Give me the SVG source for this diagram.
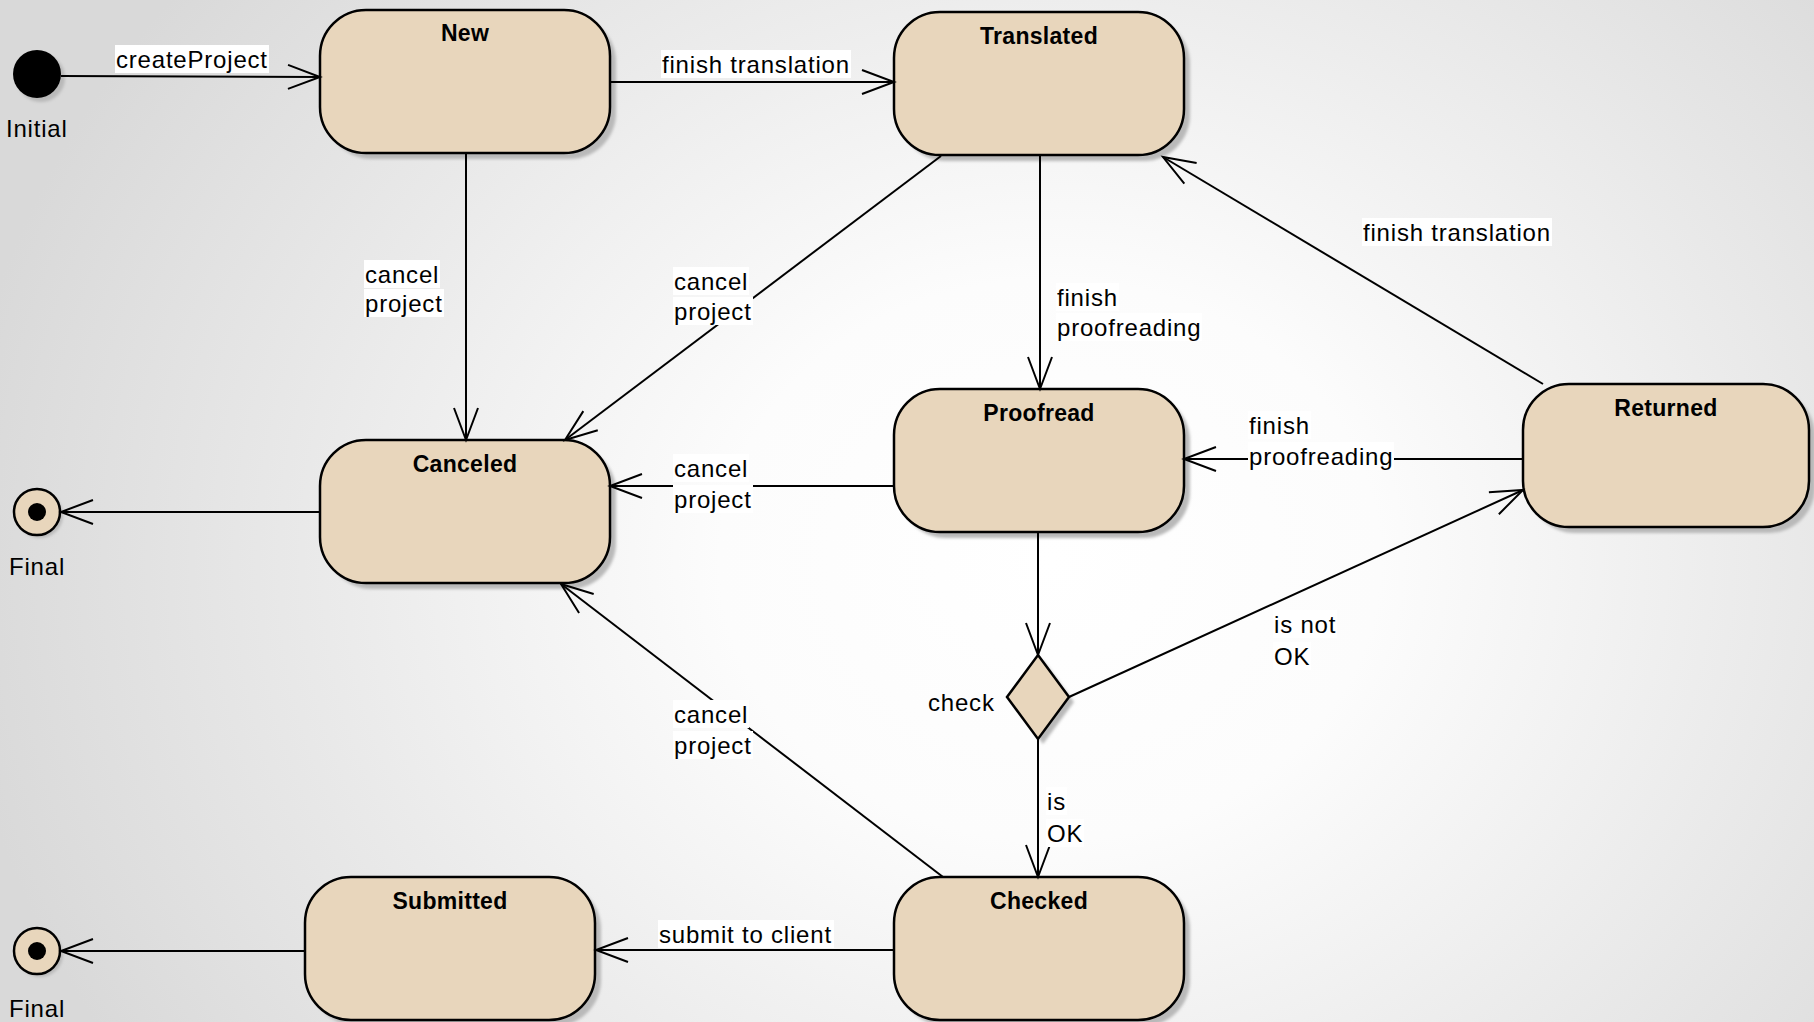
<svg xmlns="http://www.w3.org/2000/svg" width="1814" height="1022" viewBox="0 0 1814 1022">
<defs>
<radialGradient id="bg" gradientUnits="userSpaceOnUse" cx="1050" cy="560" r="1100" gradientTransform="translate(1050 560) scale(1 0.85) translate(-1050 -560)">
<stop offset="0" stop-color="#ffffff"/>
<stop offset="0.3" stop-color="#fcfcfc"/>
<stop offset="1" stop-color="#d9d9d9"/>
</radialGradient>
<filter id="blur" x="-10%" y="-10%" width="120%" height="120%"><feGaussianBlur stdDeviation="1.5"/></filter>
<marker id="arr" viewBox="-36 -16 40 32" markerWidth="40" markerHeight="32" refX="0" refY="0" orient="auto" markerUnits="userSpaceOnUse">
<path d="M-32,-12 L0,0 L-32,12" fill="none" stroke="#000" stroke-width="2"/>
</marker>
</defs>
<style>
.st{fill:#e8d6bc;stroke:#000;stroke-width:2.5}
.sh{fill:#b9b9b9;filter:url(#blur)}
.ln{fill:none;stroke:#000;stroke-width:2;marker-end:url(#arr)}
.lbl{font-family:"Liberation Sans",Arial,sans-serif;font-size:24px;letter-spacing:0.8px;fill:#000}
.bgw{fill:#ffffff}
.title{font-family:"Liberation Sans",Arial,sans-serif;font-size:23px;font-weight:bold;letter-spacing:0.3px;text-anchor:middle;fill:#000}
</style>
<rect x="0" y="0" width="1814" height="1022" fill="url(#bg)"/>

<g id="initial">
<circle class="sh" cx="41" cy="78" r="24"/>
<circle cx="37" cy="74" r="24" fill="#000"/>
<text class="lbl" x="6" y="137">Initial</text>
</g>

<g id="final1">
<circle class="sh" cx="40" cy="515" r="23"/>
<circle cx="37" cy="512" r="23" fill="#e8d6bc" stroke="#000" stroke-width="2.5"/>
<circle cx="37" cy="512" r="9" fill="#000"/>
<text class="lbl" x="9" y="575">Final</text>
</g>

<g id="final2">
<circle class="sh" cx="40" cy="954" r="23"/>
<circle cx="37" cy="951" r="23" fill="#e8d6bc" stroke="#000" stroke-width="2.5"/>
<circle cx="37" cy="951" r="9" fill="#000"/>
<text class="lbl" x="9" y="1017">Final</text>
</g>

<g id="new">
<rect class="sh" x="326" y="16" width="290" height="143" rx="46" ry="46"/>
<rect class="st" x="320" y="10" width="290" height="143" rx="46" ry="46"/>
<text class="title" x="465" y="41">New</text>
</g>

<g id="translated">
<rect class="sh" x="900" y="18" width="290" height="143" rx="46" ry="46"/>
<rect class="st" x="894" y="12" width="290" height="143" rx="46" ry="46"/>
<text class="title" x="1039" y="44">Translated</text>
</g>

<g id="canceled">
<rect class="sh" x="326" y="446" width="290" height="143" rx="46" ry="46"/>
<rect class="st" x="320" y="440" width="290" height="143" rx="46" ry="46"/>
<text class="title" x="465" y="472">Canceled</text>
</g>

<g id="proofread">
<rect class="sh" x="900" y="395" width="290" height="143" rx="46" ry="46"/>
<rect class="st" x="894" y="389" width="290" height="143" rx="46" ry="46"/>
<text class="title" x="1039" y="421">Proofread</text>
</g>

<g id="returned">
<rect class="sh" x="1529" y="390" width="286" height="143" rx="46" ry="46"/>
<rect class="st" x="1523" y="384" width="286" height="143" rx="46" ry="46"/>
<text class="title" x="1666" y="416">Returned</text>
</g>

<g id="check">
<polygon class="sh" points="1043,660 1074,702 1043,744 1012,702"/>
<polygon class="st" points="1038,655 1069,697 1038,739 1007,697"/>
<text class="lbl" x="928" y="711">check</text>
</g>

<g id="submitted">
<rect class="sh" x="311" y="883" width="290" height="143" rx="46" ry="46"/>
<rect class="st" x="305" y="877" width="290" height="143" rx="46" ry="46"/>
<text class="title" x="450" y="909">Submitted</text>
</g>

<g id="checked">
<rect class="sh" x="900" y="883" width="290" height="143" rx="46" ry="46"/>
<rect class="st" x="894" y="877" width="290" height="143" rx="46" ry="46"/>
<text class="title" x="1039" y="909">Checked</text>
</g>

<g id="connectors">
<line class="ln" x1="61" y1="76" x2="320" y2="77"/>
<line class="ln" x1="610" y1="82" x2="894" y2="82"/>
<line class="ln" x1="466" y1="153" x2="466" y2="440"/>
<line class="ln" x1="941" y1="156" x2="565" y2="440"/>
<line class="ln" x1="1040" y1="155" x2="1040" y2="389"/>
<line class="ln" x1="1543" y1="384" x2="1163" y2="157"/>
<line class="ln" x1="1523" y1="459" x2="1184" y2="459"/>
<line class="ln" x1="894" y1="486" x2="610" y2="486"/>
<line class="ln" x1="1038" y1="532" x2="1038" y2="655"/>
<line class="ln" x1="1069" y1="697" x2="1523" y2="490"/>
<line class="ln" x1="1038" y1="739" x2="1038" y2="877"/>
<line class="ln" x1="943" y1="877" x2="561" y2="584"/>
<line class="ln" x1="894" y1="950" x2="596" y2="950"/>
<line class="ln" x1="320" y1="512" x2="61" y2="512"/>
<line class="ln" x1="305" y1="951" x2="61" y2="951"/>

<g id="labels">
<rect class="bgw" x="115" y="45" width="154" height="28"/><text class="lbl" x="116" y="68">createProject</text>
<rect class="bgw" x="661" y="50" width="190" height="28"/><text class="lbl" x="662" y="73">finish translation</text>
<rect class="bgw" x="364" y="260" width="76" height="28"/><text class="lbl" x="365" y="283">cancel</text>
<rect class="bgw" x="364" y="289" width="80" height="28"/><text class="lbl" x="365" y="312">project</text>
<rect class="bgw" x="673" y="267" width="76" height="28"/><text class="lbl" x="674" y="290">cancel</text>
<rect class="bgw" x="673" y="297" width="80" height="28"/><text class="lbl" x="674" y="320">project</text>
<rect class="bgw" x="1056" y="283" width="63" height="28"/><text class="lbl" x="1057" y="306">finish</text>
<rect class="bgw" x="1056" y="313" width="146" height="28"/><text class="lbl" x="1057" y="336">proofreading</text>
<rect class="bgw" x="1362" y="218" width="190" height="28"/><text class="lbl" x="1363" y="241">finish translation</text>
<rect class="bgw" x="1248" y="411" width="63" height="28"/><text class="lbl" x="1249" y="434">finish</text>
<rect class="bgw" x="1248" y="442" width="146" height="28"/><text class="lbl" x="1249" y="465">proofreading</text>
<rect class="bgw" x="673" y="454" width="76" height="28"/><text class="lbl" x="674" y="477">cancel</text>
<rect class="bgw" x="673" y="485" width="80" height="28"/><text class="lbl" x="674" y="508">project</text>
<rect class="bgw" x="1273" y="610" width="64" height="28"/><text class="lbl" x="1274" y="633">is not</text>
<rect class="bgw" x="1273" y="642" width="38" height="28"/><text class="lbl" x="1274" y="665">OK</text>
<rect class="bgw" x="1046" y="787" width="21" height="28"/><text class="lbl" x="1047" y="810">is</text>
<rect class="bgw" x="1046" y="819" width="38" height="28"/><text class="lbl" x="1047" y="842">OK</text>
<rect class="bgw" x="673" y="700" width="76" height="28"/><text class="lbl" x="674" y="723">cancel</text>
<rect class="bgw" x="673" y="731" width="80" height="28"/><text class="lbl" x="674" y="754">project</text>
<rect class="bgw" x="658" y="920" width="176" height="28"/><text class="lbl" x="659" y="943">submit to client</text>
</g>
</g>
</svg>
